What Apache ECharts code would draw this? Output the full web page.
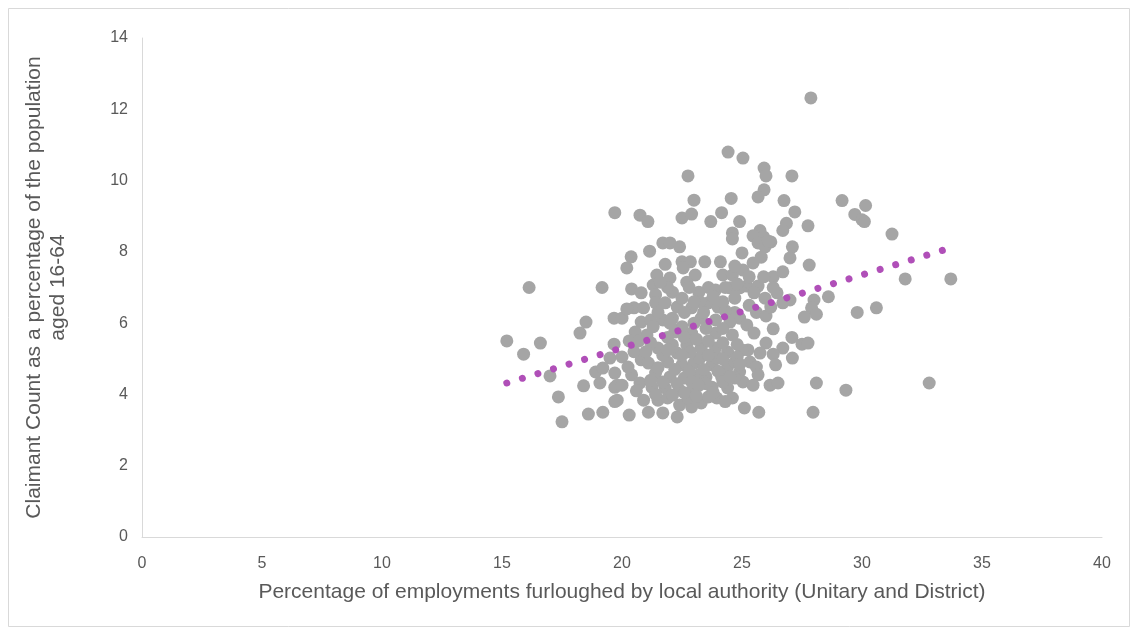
<!DOCTYPE html>
<html>
<head>
<meta charset="utf-8">
<script src="https://cdn.jsdelivr.net/npm/echarts@6/dist/echarts.min.js"></script>
<style>
  html, body { margin: 0; padding: 0; background: #fff; }
  #chart { width: 1138px; height: 635px; }
</style>
</head>
<body>
<div id="chart"></div>
<script>
// Furlough rate (x) against claimant-count rate (y), one pair per local authority
const furloughPct = [
  15.2, 15.9, 16.13, 16.6, 17.0, 17.35, 17.5, 18.25, 18.5, 18.4, 18.6, 18.9, 19.08, 19.2, 19.2, 19.17, 19.5, 19.67, 19.7, 19.7,
  19.67, 19.7, 20.75, 21.08, 22.5, 22.9, 23.0, 23.7, 24.15, 24.55, 24.42, 25.04, 22.75, 27.87, 25.92, 26.0, 27.08, 25.92, 25.67, 26.75,
  29.17, 30.15, 29.7, 30.0, 24.6, 24.6, 24.9, 21.7, 22.0, 22.4, 21.15, 20.38, 20.2, 21.8, 22.5, 22.85, 23.45, 24.1, 22.55, 21.45,
  22.0, 23.05, 24.2, 24.6, 21.3, 22.7, 23.6, 23.9, 20.4, 20.8, 21.4, 22.1, 23.2, 24.5, 20.5, 20.9, 21.4, 21.8, 22.3, 22.9,
  23.6, 24.0, 23.25, 27.2, 26.85, 26.7, 27.75, 25.75, 25.46, 25.9, 26.2, 25.67, 25.96, 27.1, 27.0, 25.0, 27.8, 25.46, 25.04, 26.3,
  26.7, 25.2, 25.67, 26.46, 24.9, 25.96, 27.0, 28.0, 28.6, 29.8, 27.9, 26.7, 31.25, 31.8, 33.7, 30.6, 30.1, 24.9, 25.2, 25.5,
  26.3, 27.08, 27.5, 27.75, 27.6, 28.1, 26.0, 26.7, 27.1, 26.3, 25.75, 25.25, 25.0, 25.33, 25.6, 26.4, 24.9, 25.67, 25.04, 25.46,
  26.17, 26.5, 28.1, 29.33, 25.1, 25.7, 27.96, 32.8,
  20.0, 20.8, 21.2, 21.7, 22.1, 22.5, 23.3, 23.9, 24.5, 21.04, 21.5, 20.8, 20.0, 20.4, 19.8, 19.8, 20.3, 22.1, 22.7, 23.3,
  23.9, 24.4, 21.9, 22.5, 23.0, 23.75, 24.4, 21.4, 22.0, 22.6, 23.2, 23.5, 24.15, 24.7, 20.0, 20.75, 21.25, 21.8, 22.4, 22.95,
  23.75, 24.4, 20.9, 21.5, 21.9, 23.3, 23.95, 21.1, 21.7, 22.3, 22.9, 22.4, 22.1, 22.75, 20.55, 22.2, 22.9, 23.9, 24.6, 23.25,
  24.0, 24.7, 22.85, 22.3, 21.7, 19.7, 20.25, 21.1, 23.6, 24.6,
  21.3, 21.9, 22.6, 23.1, 23.6, 24.2, 21.2, 21.9, 22.5, 23.6, 24.2, 21.5, 22.2, 22.8, 23.4, 24.0, 21.2, 21.7, 22.3, 22.9,
  23.5, 24.2, 24.5, 23.2, 20.6, 21.4, 22.6, 23.1, 23.8, 20.5, 20.3, 21.0, 20.7, 23.5, 24.2, 22.0, 23.0, 24.7, 24.3, 23.4,
  22.6, 21.5, 20.2, 24.8, 24.8, 24.9, 24.3, 25.3, 25.6, 26.0, 26.2, 25.5, 26.3, 25.9, 25.3, 24.7, 24.8, 25.8, 26.1, 24.3,
  24.7, 24.2, 23.8, 23.0, 22.5, 22.8, 21.9, 21.6
];
const claimantPct = [
  5.5, 5.13, 7.0, 5.44, 4.52, 3.93, 3.23, 5.72, 6.03, 4.24, 3.45, 4.63, 4.32, 4.74, 3.5, 7.0, 5.02, 5.41, 4.2, 3.8,
  6.14, 9.1, 9.03, 8.85, 8.95, 9.06, 9.45, 8.85, 9.1, 9.5, 10.8, 10.63, 10.13, 12.32, 10.35, 10.13, 10.13, 9.74, 9.54, 9.44,
  9.44, 9.3, 9.05, 8.9, 8.53, 8.36, 8.85, 8.25, 8.25, 8.14, 8.02, 7.86, 7.55, 7.65, 7.72, 7.72, 7.72, 7.72, 7.55, 7.35,
  7.27, 7.35, 7.35, 7.35, 7.07, 7.15, 7.0, 6.93, 6.96, 6.85, 6.8, 6.87, 6.87, 6.99, 6.43, 6.43, 6.57, 6.57, 6.45, 6.43,
  6.57, 6.45, 6.6, 9.12, 8.8, 8.6, 8.73, 8.6, 8.45, 8.42, 8.28, 8.25, 8.14, 8.14, 7.83, 7.97, 7.63, 7.69, 7.49, 7.3,
  7.44, 7.04, 7.04, 6.85, 6.99, 6.7, 6.65, 6.65, 6.74, 6.3, 6.43, 6.57, 8.5, 7.24, 7.24, 6.43, 8.85, 6.14, 5.95, 5.72,
  5.84, 5.6, 5.41, 5.44, 6.17, 6.25, 5.44, 5.3, 5.02, 5.13, 5.16, 5.25, 5.25, 4.91, 4.77, 4.83, 4.63, 4.55, 4.35, 4.26,
  4.26, 4.32, 4.32, 4.12, 3.62, 3.5, 3.5, 4.32,
  6.14, 6.03, 6.09, 6.09, 6.14, 5.9, 6.14, 6.09, 6.03, 5.67, 5.3, 4.97, 5.05, 4.55, 4.26, 3.84, 3.42, 5.39, 5.39, 5.3,
  5.3, 5.19, 4.91, 4.83, 4.88, 4.83, 4.77, 4.6, 4.49, 4.46, 4.55, 4.49, 4.49, 4.46, 4.26, 4.32, 4.2, 4.18, 4.12, 4.12,
  4.2, 4.18, 3.84, 3.84, 3.9, 3.76, 3.9, 3.5, 3.48, 3.37, 3.65, 3.7, 3.98, 3.9, 5.75, 5.75, 5.72, 5.72, 5.67, 5.02,
  5.02, 4.91, 5.19, 5.16, 5.1, 4.6, 4.77, 4.88, 3.93, 3.9,
  5.9, 5.6, 5.6, 5.55, 5.5, 5.45, 5.45, 5.25, 5.1, 5.1, 5.0, 4.75, 4.7, 4.65, 4.7, 4.65, 4.4, 4.35, 4.3, 4.35,
  4.3, 4.35, 4.5, 4.25, 4.1, 4.0, 4.05, 3.95, 4.05, 5.2, 5.5, 5.2, 5.5, 5.85, 5.85, 6.0, 6.0, 6.3, 6.35, 6.3,
  6.3, 6.3, 6.4, 5.4, 5.05, 4.85, 3.8, 6.5, 6.3, 6.2, 6.45, 6.85, 7.0, 7.3, 7.3, 7.6, 7.1, 7.85, 8.3, 7.0,
  6.7, 6.6, 6.75, 6.6, 6.7, 7.0, 7.0, 7.15
];

// Linear trend line end points
const trendX = [15.2, 33.4];
const trendY = [4.32, 8.05];

// Axis ranges and titles
const xTicks = { min: 0, max: 40, step: 5 };
const yTicks = { min: 0, max: 14, step: 2 };
const xTitle = 'Percentage of employments furloughed by local authority (Unitary and District)';
const yTitle = 'Claimant Count as a percentage of the population\naged 16-64';

const points = furloughPct.map((x, i) => [x, claimantPct[i]]);
const trend = trendX.map((x, i) => [x, trendY[i]]);

const FONT = '"Liberation Sans", Arial, sans-serif';
const TEXT = '#595959';
const AXIS = '#D9D9D9';

const chart = echarts.init(document.getElementById('chart'), null, { renderer: 'canvas' });
chart.setOption({
  animation: false,
  backgroundColor: '#ffffff',
  graphic: [{
    type: 'rect',
    shape: { x: 8.5, y: 8.5, width: 1121, height: 618 },
    style: { fill: 'none', stroke: AXIS, lineWidth: 1 },
    silent: true
  }],
  grid: { left: 142, right: 36, top: 38, bottom: 98 },
  xAxis: {
    type: 'value',
    min: xTicks.min, max: xTicks.max, interval: xTicks.step,
    name: xTitle,
    nameLocation: 'middle',
    nameGap: 45,
    nameTextStyle: { color: TEXT, fontFamily: FONT, fontSize: 21 },
    axisLine: { show: true, lineStyle: { color: AXIS, width: 1 } },
    axisTick: { show: false },
    splitLine: { show: false },
    axisLabel: { color: TEXT, fontFamily: FONT, fontSize: 16, margin: 19 }
  },
  yAxis: {
    type: 'value',
    min: yTicks.min, max: yTicks.max, interval: yTicks.step,
    name: yTitle,
    nameLocation: 'middle',
    nameGap: 72,
    nameRotate: 90,
    nameTextStyle: { color: TEXT, fontFamily: FONT, fontSize: 21, lineHeight: 24, align: 'center' },
    axisLine: { show: true, lineStyle: { color: AXIS, width: 1 } },
    axisTick: { show: false },
    splitLine: { show: false },
    axisLabel: { color: TEXT, fontFamily: FONT, fontSize: 16, margin: 14 }
  },
  series: [
    {
      type: 'scatter',
      data: points,
      symbol: 'circle',
      symbolSize: 13,
      itemStyle: { color: '#A5A5A5', opacity: 1 },
      z: 2,
      silent: true
    },
    {
      type: 'line',
      data: trend,
      symbol: 'none',
      lineStyle: { color: '#B04FB8', width: 7, type: [0.01, 16.25], cap: 'round' },
      z: 3,
      silent: true
    }
  ]
});
</script>
</body>
</html>
